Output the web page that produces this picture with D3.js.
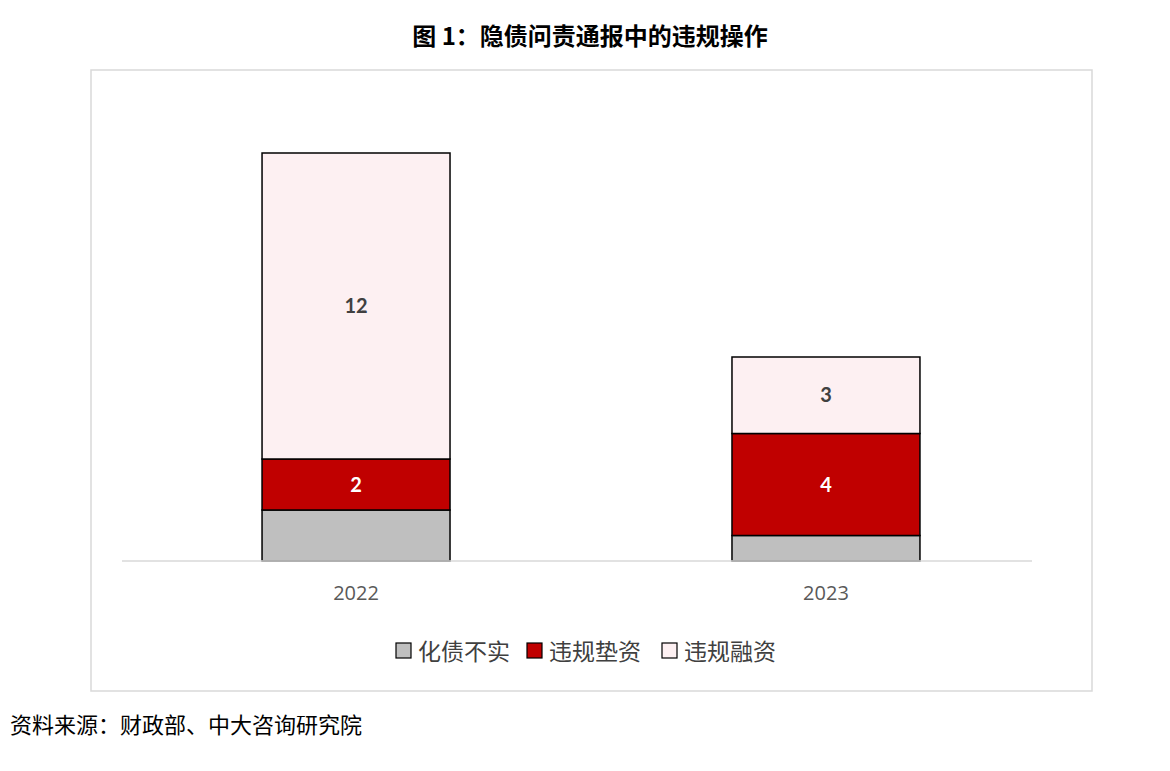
<!DOCTYPE html>
<html>
<head>
<meta charset="utf-8">
<script src="https://cdn.jsdelivr.net/npm/d3@7"></script>
<style>
body { margin: 0; background: #fff; }
svg { font-family: "Noto Sans CJK SC", "Noto Sans", sans-serif; }
</style>
</head>
<body>
<svg width="1170" height="771"></svg>
<script>
// data
const years = ['2022', '2023']
const seriesNames = ['化债不实', '违规垫资', '违规融资']
const huaZhai = [2, 1]
const dianZi = [2, 4]
const rongZi = [12, 3]
const colors = ['#bfbfbf', '#c00000', '#fdf0f2']
const labelColors = [null, '#ffffff', '#404040']

const svg = d3.select('svg')

svg.append('text')
    .attr('x', 590).attr('y', 45)
    .attr('text-anchor', 'middle')
    .attr('font-size', 24).attr('font-weight', 'bold')
    .text('图 1：隐债问责通报中的违规操作')

svg.append('rect')
    .attr('x', 91).attr('y', 70).attr('width', 1001).attr('height', 621)
    .attr('fill', 'none').attr('stroke', '#d9d9d9').attr('stroke-width', 1.5)

const x = d3.scaleBand().domain(years).range([122, 1060])
    .paddingInner(0.6).paddingOuter(0.298)
const y = d3.scaleLinear().domain([0, 16]).range([561, 153])

const rows = years.map((yr, i) => ({ year: yr, s0: huaZhai[i], s1: dianZi[i], s2: rongZi[i] }))
const stacked = d3.stack().keys(['s0', 's1', 's2'])(rows)

const layers = svg.selectAll('g.layer').data(stacked).join('g').attr('class', 'layer')
layers.each(function (layer, li) {
    let g = d3.select(this)
    g.selectAll('rect').data(layer).join('rect')
        .attr('x', d => x(d.data.year))
        .attr('width', x.bandwidth())
        .attr('y', d => y(d[1]))
        .attr('height', d => y(d[0]) - y(d[1]))
        .attr('fill', colors[li])
        .attr('stroke', '#000').attr('stroke-width', 1.5)
    if (!labelColors[li]) return
    g.selectAll('text').data(layer).join('text')
        .attr('x', d => x(d.data.year) + x.bandwidth() / 2)
        .attr('y', d => (y(d[0]) + y(d[1])) / 2 + 7)
        .attr('text-anchor', 'middle')
        .attr('font-size', 20).attr('font-weight', 'bold')
        .attr('font-family', 'Lato, "Open Sans", sans-serif')
        .attr('fill', labelColors[li])
        .text(d => d[1] - d[0])
})

svg.append('line')
    .attr('x1', 122).attr('x2', 1032).attr('y1', 561).attr('y2', 561)
    .attr('stroke', '#d9d9d9').attr('stroke-width', 1.5)

svg.selectAll('text.cat').data(years).join('text')
    .attr('class', 'cat')
    .attr('x', d => x(d) + x.bandwidth() / 2).attr('y', 600)
    .attr('text-anchor', 'middle')
    .attr('font-size', 20).attr('fill', '#595959')
    .attr('font-family', '"Open Sans", sans-serif')
    .text(d => d)

// legend
const legendX = [396, 527, 662]
const legend = svg.selectAll('g.leg').data(seriesNames).join('g').attr('class', 'leg')
    .attr('transform', (d, i) => `translate(${legendX[i]},651)`)
legend.append('rect')
    .attr('x', 0).attr('y', -8).attr('width', 15).attr('height', 15)
    .attr('fill', (d, i) => colors[i]).attr('stroke', '#000').attr('stroke-width', 1.2)
legend.append('text')
    .attr('x', 22).attr('y', 9)
    .attr('font-size', 23).attr('fill', '#404040')
    .text(d => d)

svg.append('text')
    .attr('x', 10).attr('y', 733)
    .attr('font-size', 22).attr('fill', '#000')
    .text('资料来源：财政部、中大咨询研究院')
</script>
</body>
</html>
